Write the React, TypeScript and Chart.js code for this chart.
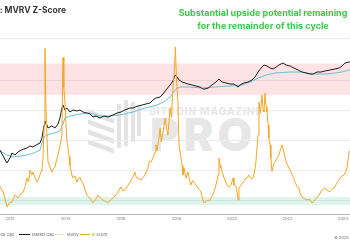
import { useEffect, useRef } from "react";
import { Chart, registerables } from "chart.js";
Chart.register(...registerables);

// Z-Score (MVRV Z) — decimal year / value
const zYears = [
  2011.40, 2011.55, 2011.64, 2011.75, 2011.82, 2011.89, 2011.97, 2012.07, 2012.18, 2012.29,
  2012.38, 2012.47, 2012.55, 2012.61, 2012.67, 2012.72, 2012.79, 2012.83, 2012.90, 2012.97,
  2013.03, 2013.08, 2013.15, 2013.19, 2013.23, 2013.26, 2013.29, 2013.33, 2013.37, 2013.44,
  2013.51, 2013.56, 2013.62, 2013.67, 2013.73, 2013.80, 2013.87, 2013.91, 2013.94, 2013.98,
  2014.05, 2014.09, 2014.13, 2014.16, 2014.23, 2014.27, 2014.34, 2014.41, 2014.46, 2014.52,
  2014.58, 2014.63, 2014.70, 2014.77, 2014.88, 2014.99, 2015.08, 2015.17, 2015.26, 2015.35,
  2015.44, 2015.53, 2015.62, 2015.71, 2015.80, 2015.89, 2016.00, 2016.07, 2016.14, 2016.23,
  2016.32, 2016.42, 2016.50, 2016.55, 2016.61, 2016.72, 2016.80, 2016.86, 2016.97, 2017.02,
  2017.08, 2017.15, 2017.23, 2017.26, 2017.30, 2017.35, 2017.41, 2017.45, 2017.52, 2017.59,
  2017.64, 2017.69, 2017.77, 2017.82, 2017.87, 2017.92, 2017.96, 2018.00, 2018.05, 2018.09,
  2018.16, 2018.20, 2018.23, 2018.27, 2018.34, 2018.41, 2018.47, 2018.52, 2018.58, 2018.63,
  2018.70, 2018.77, 2018.83, 2018.88, 2018.94, 2018.99, 2019.07, 2019.14, 2019.20, 2019.24,
  2019.30, 2019.35, 2019.42, 2019.50, 2019.53, 2019.57, 2019.60, 2019.68, 2019.73, 2019.78,
  2019.85, 2019.89, 2019.96, 2020.04, 2020.07, 2020.15, 2020.22, 2020.25, 2020.32, 2020.40,
  2020.45, 2020.50, 2020.56, 2020.61, 2020.69, 2020.76, 2020.82, 2020.86, 2020.90, 2020.94,
  2020.97, 2021.02, 2021.08, 2021.12, 2021.15, 2021.19, 2021.23, 2021.26, 2021.30, 2021.33,
  2021.37, 2021.40, 2021.44, 2021.50, 2021.55, 2021.62, 2021.69, 2021.75, 2021.80, 2021.87,
  2021.91, 2021.98, 2022.05, 2022.10, 2022.16, 2022.22, 2022.27, 2022.34, 2022.41, 2022.46,
  2022.52, 2022.60, 2022.70, 2022.80, 2022.88, 2022.94, 2022.99, 2023.07, 2023.14, 2023.22,
  2023.32, 2023.41, 2023.50, 2023.59, 2023.68, 2023.74, 2023.78, 2023.84, 2023.89, 2023.96,
  2024.04, 2024.10, 2024.14, 2024.18, 2024.22, 2024.26,
];
const zValues = [
  2.4, 1.6, 0.87, 0.53, 0.1, -0.47, -0.2, -0.13, 0.33, 0.13,
  0.4, 0.53, 0.9, 1.47, 1.2, 2.0, 1.67, 1.87, 1.5, 1.2,
  1.4, 1.67, 2.0, 2.8, 5.0, 10.1, 6.5, 4.3, 2.53, 2.2,
  1.87, 2.1, 2.2, 2.6, 3.0, 3.6, 4.3, 9.5, 7.5, 6.5,
  3.9, 3.5, 2.9, 2.3, 1.67, 1.47, 1.6, 1.2, 1.4, 1.53,
  1.2, 1.13, 0.7, 0.33, 0.13, -0.2, 0.0, 0.33, 0.1, 0.0,
  -0.1, -0.2, 0.0, 0.13, 0.3, 0.53, 0.87, 0.6, 0.67, 0.9,
  1.2, 1.5, 1.87, 1.5, 1.47, 1.33, 1.5, 1.67, 2.13, 2.6,
  2.53, 2.8, 3.2, 3.67, 3.3, 3.9, 4.8, 3.87, 4.6, 5.47,
  4.8, 4.33, 6.13, 5.5, 7.47, 8.5, 10.2, 8.0, 6.53, 3.67,
  2.8, 2.3, 1.67, 2.13, 1.47, 1.87, 1.3, 1.0, 1.3, 1.2,
  1.0, 0.8, 0.7, 0.53, 0.1, -0.2, -0.1, 0.0, -0.05, 0.13,
  0.3, 0.53, 1.0, 1.67, 2.8, 2.3, 2.13, 1.67, 1.4, 1.2,
  0.9, 0.87, 1.0, 1.47, 1.0, 0.9, 0.0, 0.8, 1.0, 1.2,
  1.3, 1.47, 1.5, 1.67, 1.4, 1.47, 2.0, 2.53, 3.5, 4.33,
  6.53, 5.8, 7.0, 6.0, 5.87, 7.13, 6.2, 5.87, 5.0, 4.13,
  3.67, 2.8, 1.9, 2.4, 2.53, 2.8, 3.0, 3.4, 3.67, 3.2,
  2.8, 2.4, 2.13, 2.0, 1.67, 1.5, 1.2, 0.9, 0.8, 0.4,
  0.2, 0.1, 0.0, 0.05, -0.2, -0.1, 0.0, 0.2, 0.33, 0.6,
  0.8, 0.7, 0.53, 0.7, 0.8, 1.0, 1.13, 1.3, 1.47, 1.6,
  1.67, 1.9, 2.13, 2.7, 3.2, 3.3,
];

// Market Cap, USD billions
const mcYears = [
  2011.45, 2011.64, 2011.75, 2011.89, 2012.00, 2012.07, 2012.18, 2012.29, 2012.40, 2012.50,
  2012.61, 2012.72, 2012.83, 2012.94, 2013.08, 2013.15, 2013.23, 2013.26, 2013.33, 2013.37,
  2013.44, 2013.51, 2013.62, 2013.73, 2013.80, 2013.87, 2013.91, 2013.98, 2014.05, 2014.16,
  2014.27, 2014.41, 2014.52, 2014.63, 2014.77, 2014.88, 2014.99, 2015.10, 2015.24, 2015.39,
  2015.53, 2015.71, 2015.86, 2016.00, 2016.14, 2016.32, 2016.43, 2016.61, 2016.76, 2016.90,
  2017.05, 2017.15, 2017.26, 2017.41, 2017.51, 2017.62, 2017.77, 2017.87, 2017.95, 2018.02,
  2018.09, 2018.20, 2018.31, 2018.41, 2018.56, 2018.70, 2018.85, 2018.95, 2019.03, 2019.14,
  2019.28, 2019.42, 2019.53, 2019.64, 2019.78, 2019.93, 2020.07, 2020.22, 2020.29, 2020.43,
  2020.58, 2020.72, 2020.83, 2020.94, 2021.05, 2021.15, 2021.26, 2021.37, 2021.48, 2021.59,
  2021.69, 2021.84, 2021.95, 2022.09, 2022.23, 2022.38, 2022.52, 2022.67, 2022.81, 2022.92,
  2023.06, 2023.21, 2023.35, 2023.53, 2023.71, 2023.86, 2023.96, 2024.07, 2024.22, 2024.28,
];
const mcValues = [
  0.09, 0.107, 0.0566, 0.0268, 0.0457, 0.0779, 0.063, 0.0867, 0.107, 0.119,
  0.133, 0.164, 0.148, 0.183, 0.226, 0.386, 1.54, 2.36, 1.54, 1.12,
  1.25, 1.39, 1.12, 1.71, 3.25, 9.44, 13.0, 7.63, 9.44, 6.17,
  7.63, 6.86, 7.63, 6.17, 5.54, 4.98, 3.62, 4.02, 3.25, 4.02,
  3.62, 4.48, 5.54, 6.17, 7.63, 9.44, 9.44, 11.7, 13.0, 14.5,
  16.1, 22.2, 27.4, 30.5, 42.0, 64.3, 110, 168, 318, 257,
  187, 151, 136, 122, 110, 98.5, 88.6, 71.6, 71.6, 79.6,
  110, 151, 208, 151, 136, 122, 122, 88.6, 110, 136,
  151, 187, 257, 438, 671, 924, 831, 671, 603, 747,
  924, 1144, 924, 831, 671, 543, 438, 394, 354, 354,
  438, 438, 488, 543, 603, 671, 831, 1144, 1272, 1290,
];

// Realized Cap, USD billions
const rcYears = [
  2011.28, 2011.64, 2011.89, 2012.11, 2012.36, 2012.61, 2012.86, 2013.08, 2013.19, 2013.26,
  2013.44, 2013.62, 2013.80, 2013.91, 2013.98, 2014.16, 2014.52, 2014.88, 2015.24, 2015.60,
  2015.96, 2016.43, 2016.86, 2017.30, 2017.59, 2017.77, 2017.87, 2017.98, 2018.13, 2018.49,
  2018.92, 2019.39, 2019.93, 2020.36, 2020.65, 2020.94, 2021.23, 2021.55, 2022.09, 2022.52,
  2022.88, 2023.35, 2023.71, 2023.96, 2024.22, 2024.28,
];
const rcValues = [
  0.087, 0.0964, 0.063, 0.0508, 0.0566, 0.063, 0.0779, 0.107, 0.311, 0.477,
  0.591, 0.657, 0.813, 1.71, 3.25, 4.02, 4.98, 5.54, 4.02, 4.02,
  4.48, 6.17, 9.44, 13.0, 19.9, 30.5, 46.7, 71.6, 88.6, 88.6,
  79.6, 88.6, 98.5, 110, 151, 231, 318, 394, 438, 438,
  354, 354, 394, 438, 543, 550,
];

const xTicks = [2012, 2014, 2016, 2018, 2020, 2022, 2024];
const zGridTicks = [0, 2, 4, 6, 8, 10.8];
const redBand = [7, 9.1];
const greenBand = [-0.35, 0.2];

export default function App() {
  const ref = useRef<HTMLCanvasElement>(null);

  useEffect(() => {
    if (!ref.current) return;
    const pts = (xs: number[], ys: number[]) => xs.map((x, i) => ({ x, y: ys[i] }));
    const bandPlugin = {
      id: "bands",
      beforeDatasetsDraw(chart: any) {
        const { ctx, chartArea, scales } = chart;
        const z = scales.yZ;
        const draw = (b: number[], color: string) => {
          const top = z.getPixelForValue(b[1]);
          const bot = z.getPixelForValue(b[0]);
          ctx.save();
          ctx.fillStyle = color;
          ctx.fillRect(chartArea.left, top, chartArea.right - chartArea.left, bot - top);
          ctx.restore();
        };
        draw(redBand, "rgba(239,68,68,0.15)");
        draw(greenBand, "rgba(16,185,129,0.14)");
      },
    };

    const chart = new Chart(ref.current, {
      type: "line",
      data: {
        datasets: [
          {
            label: "Z-Score",
            data: pts(zYears, zValues),
            yAxisID: "yZ",
            borderColor: "#f5a524",
            borderWidth: 1,
            pointRadius: 0,
            tension: 0,
            order: 0,
          },
          {
            label: "Market Cap",
            data: pts(mcYears, mcValues),
            yAxisID: "yLog",
            borderColor: "#1c1c1c",
            borderWidth: 1,
            pointRadius: 0,
            tension: 0,
            order: 1,
          },
          {
            label: "Realized Cap",
            data: pts(rcYears, rcValues),
            yAxisID: "yLog",
            borderColor: "#62c2d6",
            borderWidth: 1,
            pointRadius: 0,
            tension: 0,
            order: 2,
          },
        ],
      },
      options: {
        responsive: false,
        animation: false,
        layout: { padding: { top: 38, bottom: 26, left: 0, right: 0 } },
        plugins: { legend: { display: false }, tooltip: { enabled: false }, title: { display: false } },
        scales: {
          x: {
            type: "linear",
            min: 2011.64,
            max: 2024.25,
            afterBuildTicks: (s: any) => {
              s.ticks = xTicks.map((v) => ({ value: v }));
            },
            afterFit: (s: any) => {
              s.height = 10;
            },
            ticks: {
              callback: (v: any) => String(v),
              font: { family: "Inter", size: 4 },
              color: "#777",
              padding: 2,
              maxRotation: 0,
              autoSkip: false,
            },
            grid: { display: false, drawTicks: false },
            border: { display: true, color: "#b5b5b5", width: 1 },
          },
          yLog: {
            type: "logarithmic",
            display: false,
            min: 0.000117,
            max: 16440,
          },
          yZ: {
            type: "linear",
            position: "right",
            min: -0.933,
            max: 10.8,
            afterBuildTicks: (s: any) => {
              s.ticks = zGridTicks.map((v) => ({ value: v }));
            },
            afterFit: (s: any) => {
              s.width = 0;
            },
            ticks: { display: false },
            grid: { color: "#ececec", lineWidth: 1, drawTicks: false },
            border: { display: false },
          },
        },
      },
      plugins: [bandPlugin],
    } as any);
    return () => chart.destroy();
  }, []);

  const legendText: any = {
    position: "absolute",
    top: 231.5,
    fontSize: 4,
    lineHeight: "5px",
    color: "#666",
    fontFamily: "Inter, sans-serif",
    whiteSpace: "nowrap",
  };
  const legendLine = (left: number, width: number, color: string): any => ({
    position: "absolute",
    left,
    top: 233.5,
    width,
    height: 1,
    background: color,
  });
  const wm = "rgba(0,0,0,0.11)";

  return (
    <div
      style={{
        position: "fixed",
        left: 0,
        top: 0,
        width: 350,
        height: 250,
        overflow: "hidden",
        background: "#fff",
        fontFamily: "Inter, sans-serif",
      }}
    >
      {/* watermark */}
      <div style={{ position: "absolute", left: 88, top: 114, width: 26, height: 5, background: wm, transform: "skewY(20deg)" }} />
      <div style={{ position: "absolute", left: 88, top: 124, width: 26, height: 5, background: wm, transform: "skewY(20deg)" }} />
      <div style={{ position: "absolute", left: 88, top: 134, width: 26, height: 5, background: wm, transform: "skewY(20deg)" }} />
      <div style={{ position: "absolute", left: 88, top: 144, width: 26, height: 5, background: wm, transform: "skewY(20deg)" }} />
      <div style={{ position: "absolute", left: 117, top: 104, width: 4, height: 44, background: wm }} />
      <div style={{ position: "absolute", left: 124, top: 100, width: 4, height: 46, background: wm }} />
      <div style={{ position: "absolute", left: 131, top: 102, width: 4, height: 40, background: wm }} />
      <div style={{ position: "absolute", left: 137, top: 106, width: 4, height: 30, background: wm }} />
      <div
        style={{
          position: "absolute",
          left: 149,
          top: 106,
          fontSize: 10.5,
          fontWeight: 800,
          color: wm,
          whiteSpace: "nowrap",
          lineHeight: "12px",
          letterSpacing: 0.6,
        }}
      >
        BITCOIN MAGAZINE
      </div>
      <div
        style={{
          position: "absolute",
          left: 150,
          top: 110,
          fontSize: 45,
          fontWeight: 900,
          color: wm,
          whiteSpace: "nowrap",
          lineHeight: "50px",
          letterSpacing: 4,
        }}
      >
        PRO
      </div>

      <canvas ref={ref} width={350} height={250} style={{ position: "absolute", left: 0, top: 0, width: 350, height: 250 }} />

      {/* title */}
      <div
        style={{
          position: "absolute",
          right: 284,
          top: 4.5,
          fontSize: 8.5,
          fontWeight: 700,
          color: "#333",
          whiteSpace: "nowrap",
          lineHeight: "11px",
        }}
      >
        Bitcoin: MVRV Z-Score
      </div>

      {/* annotation */}
      <div
        style={{
          position: "absolute",
          left: 263,
          top: 5.5,
          transform: "translateX(-50%)",
          fontSize: 9,
          fontWeight: 700,
          color: "#3cc84a",
          whiteSpace: "nowrap",
          textAlign: "center",
          lineHeight: "13px",
        }}
      >
        Substantial upside potential remaining
        <br />
        for the remainder of this cycle
      </div>

      {/* legend */}
      <div style={legendLine(-12, 10, "#62c2d6")} />
      <div style={{ ...legendText, right: 336 }}>Realized Cap</div>
      <div style={legendLine(19, 11, "#1c1c1c")} />
      <div style={{ ...legendText, left: 32 }}>Market Cap</div>
      <div style={legendLine(55, 9, "#e9e3c9")} />
      <div style={{ ...legendText, left: 67 }}>MVRV</div>
      <div style={legendLine(80, 10, "#f5a524")} />
      <div style={{ ...legendText, left: 92 }}>Z-Score</div>

      {/* copyright */}
      <div style={{ ...legendText, left: 334, top: 234.5 }}>© 2025 Bitcoin Magazine Pro</div>
    </div>
  );
}
